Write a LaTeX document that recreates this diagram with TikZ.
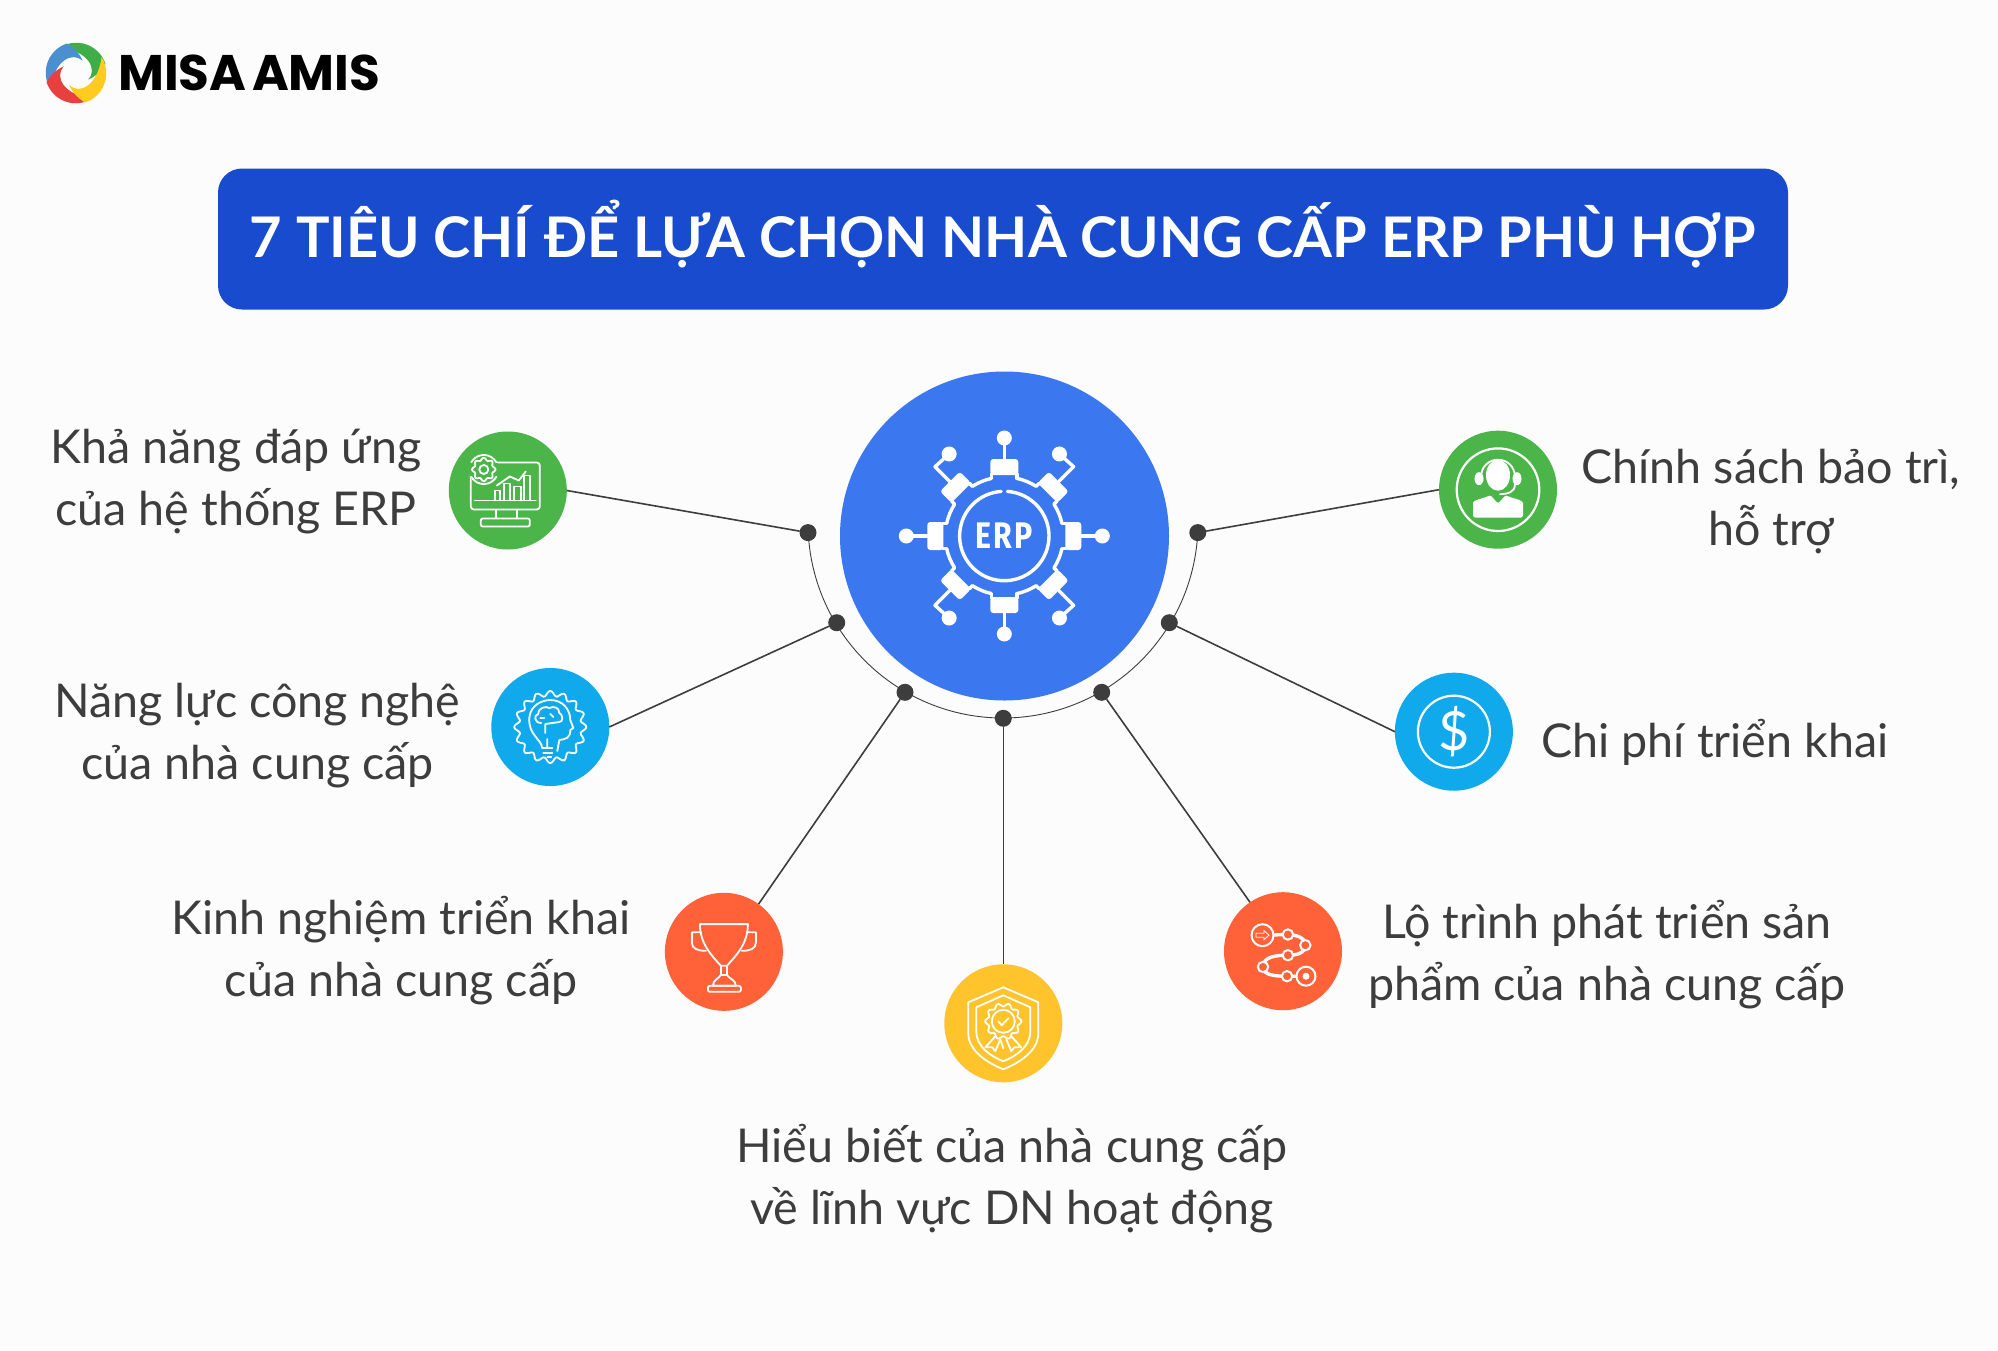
\documentclass[tikz,border=0pt]{standalone}
\usepackage{fontspec}
\setmainfont{Lato}
\newfontfamily\logofont{Poppins}
\newfontfamily\erpfont[LetterSpace=8]{Fira Sans}
\definecolor{bgc}{HTML}{FCFCFC}
\definecolor{titlec}{HTML}{184BCE}
\definecolor{mainc}{HTML}{3B78F0}
\definecolor{greenc}{HTML}{4BB54A}
\definecolor{bluec}{HTML}{0FA9EC}
\definecolor{redc}{HTML}{FF6138}
\definecolor{yellowc}{HTML}{FFC42B}
\definecolor{inkc}{HTML}{3D3D3D}
\definecolor{lgreen}{HTML}{3FAE49}
\definecolor{lblue}{HTML}{4A90D0}
\definecolor{lred}{HTML}{E8403F}
\definecolor{lyellow}{HTML}{FFCB1F}
\tikzset{
  icon/.style={circle,minimum size=118pt,inner sep=0pt,outer sep=0pt,fill=#1},
  dotn/.style={circle,minimum size=17pt,inner sep=0pt,outer sep=0pt,fill=inkc},
  conn/.style={inkc,line width=1.6pt},
  lab/.style={align=center,text=inkc,inner sep=0pt,font=\fontsize{46.6}{62}\selectfont},
  ic/.style={white,line width=1.8pt,line cap=round,line join=round},
  ict/.style={white,line width=3.4pt,line cap=round,line join=round},
}
\begin{document}
\begin{tikzpicture}[x=1pt,y=-1pt]
\path[use as bounding box,fill=bgc] (0,0) rectangle (1998,1350);
% logo
\begin{scope}[shift={(76,73)}]
 \begin{scope}[rotate=0]\fill[lgreen] (-16,-25.6) arc[start angle=238,end angle=342,radius=30.7] .. controls (24,0) and (18,4) .. (12.3,6.7) .. controls (22,-4) and (12,-22) .. (-16,-25.6) -- cycle;\end{scope}
 \begin{scope}[rotate=90]\fill[lblue] (-16,-25.6) arc[start angle=238,end angle=342,radius=30.7] .. controls (24,0) and (18,4) .. (12.3,6.7) .. controls (22,-4) and (12,-22) .. (-16,-25.6) -- cycle;\end{scope}
 \begin{scope}[rotate=180]\fill[lred] (-16,-25.6) arc[start angle=238,end angle=342,radius=30.7] .. controls (24,0) and (18,4) .. (12.3,6.7) .. controls (22,-4) and (12,-22) .. (-16,-25.6) -- cycle;\end{scope}
 \begin{scope}[rotate=270]\fill[lyellow] (-16,-25.6) arc[start angle=238,end angle=342,radius=30.7] .. controls (24,0) and (18,4) .. (12.3,6.7) .. controls (22,-4) and (12,-22) .. (-16,-25.6) -- cycle;\end{scope}
\end{scope}
\node[anchor=west,inner sep=0pt,text=black,font=\logofont\bfseries\fontsize{50}{50}\selectfont] (logo) at (118,73) {MISA\hspace{-5pt} AMIS};
% title
\node[fill=titlec,rounded corners=24pt,minimum width=1570pt,minimum height=141pt,inner sep=0pt] (title) at (1003,239) {};
\node[inner sep=0pt,text=white,font=\bfseries\fontsize{56}{56}\selectfont] (titletext) at (1003,234) {7 TIÊU CHÍ ĐỂ LỰA CHỌN NHÀ CUNG CẤP ERP PHÙ HỢP};
% arc
\coordinate (arcC) at (1003,523);
\draw[inkc,line width=0.9pt] (arcC) ++(177.2:195) arc[start angle=177.2,end angle=2.8,radius=195];
% main
\node[circle,fill=mainc,minimum size=329pt,inner sep=0pt] (main) at (1004.5,536) {};
% dots
\node[dotn] (d1) at (808,532.6) {};
\node[dotn] (d2) at (836.7,622.7) {};
\node[dotn] (d3) at (905,692.3) {};
\node[dotn] (d4) at (1003.3,718.3) {};
\node[dotn] (d5) at (1101.7,692.3) {};
\node[dotn] (d6) at (1169.3,622.7) {};
\node[dotn] (d7) at (1197.8,532.6) {};
% icon discs
\node[icon=greenc] (i1) at (507.8,490.5) {};
\node[icon=bluec] (i2) at (550.3,727) {};
\node[icon=redc] (i3) at (723.9,951.8) {};
\node[icon=yellowc] (i4) at (1003.3,1023.3) {};
\node[icon=redc] (i5) at (1283,951.2) {};
\node[icon=bluec] (i6) at (1453.9,731.7) {};
\node[icon=greenc] (i7) at (1498,489.7) {};
% connectors
\draw[conn] (d1) -- (i1.0);
\draw[conn] (d2) -- (i2.0);
\draw[conn] (d3) -- (i3.54);
\draw[conn] (d4) -- (i4.90);
\draw[conn] (d5) -- (i5.124);
\draw[conn] (d6) -- (i6.180);
\draw[conn] (d7) -- (i7.180);
% labels
\node[lab] (t1) at (236,482) {Khả năng đáp ứng\\của hệ thống ERP};
\node[lab] (t2) at (257.5,736) {Năng lực công nghệ\\của nhà cung cấp};
\node[lab] (t3) at (401,951) {Kinh nghiệm triển khai\\của nhà cung cấp};
\node[lab] (t4) at (1012,1179) {Hiểu biết của nhà cung cấp\\về lĩnh vực DN hoạt động};
\node[lab] (t5) at (1607,955) {Lộ trình phát triển sản\\phẩm của nhà cung cấp};
\node[lab] (t6) at (1715,742) {Chi phí triển khai};
\node[lab] (t7) at (1771,502) {Chính sách bảo trì,\\hỗ trợ};
% ERP icon
\begin{scope}[shift={(1004.3,536)}]
 \foreach \a in {0,45,...,315}{
  \begin{scope}[rotate=\a]
   \fill[white,rounded corners=3pt] (-14,-77) rectangle (14,-61);
   \draw[ict] (-12.6,-62) -- (-12.6,-57.5) (12.6,-62) -- (12.6,-57.5);
   \draw[ict] (0,0) ++(-77:59) arc[start angle=-77,end angle=-58,radius=59];
  \end{scope}}
 \foreach \a in {0,90,180,270}{
  \begin{scope}[rotate=\a]
   \draw[ict] (0,-77) -- (0,-97);
   \fill[white] (0,-98) circle[radius=7.5];
  \end{scope}}
 \foreach \a/\s in {45/1,225/1,135/-1,315/-1}{
  \begin{scope}[rotate=\a]
   \draw[ict] (0,-77) -- (0,-98) -- (\s*19,-97);
   \fill[white] (\s*19,-97) circle[radius=7.5];
  \end{scope}}
 \draw[ict] (0,0) ++(-86:44.7) arc[start angle=-86,end angle=266,radius=44.7];
 \node[white,inner sep=0pt,xscale=.82,font=\erpfont\bfseries\fontsize{37}{37}\selectfont] (erp) at (0,0) {ERP};
\end{scope}
% monitor icon
\begin{scope}[shift={(507.8,490.5)}]
 \draw[ic,rounded corners=3pt] (-37,-28) rectangle (32,19);
 \draw[ic] (-33,10) -- (28,10);
 \draw[ic] (-12,19) -- (-12,28) (9,19) -- (9,28);
 \draw[ic,rounded corners=2pt] (-27,28) rectangle (22,36);
 \draw[ic] (-13,10) -- (-13,0) -- (-8,0) -- (-8,10) (-4,10) -- (-4,-7) -- (2,-7) -- (2,10) (6,10) -- (6,-4) -- (13,-4) -- (13,10) (16,10) -- (16,-15) -- (22,-15) -- (22,10);
 \draw[ic] (-11,-5) -- (2,-14) -- (11,-10) -- (18,-19);
 \fill[greenc] (-24,-21) circle[radius=15];
 \draw[ic] plot[domain=0:360,samples=73,smooth] ({-24+(10.5+1.2*cos(8*\x))*cos(\x)},{-21+(10.5+1.2*cos(8*\x))*sin(\x)});
 \draw[ic] (-24,-21) circle[radius=4.5];
 \draw[ic] (-24,-21) ++(-150:14.5) arc[start angle=-150,end angle=-30,radius=14.5];
 \draw[ic] (-24,-21) ++(30:14.5) arc[start angle=30,end angle=150,radius=14.5];
\end{scope}
% brain icon
\begin{scope}[shift={(550.3,727)}]
 \draw[ic] plot[domain=0:360,samples=145,smooth] ({(33.5+2.6*cos(16*\x))*cos(\x)},{(33.5+2.6*cos(16*\x))*sin(\x)});
 \draw[ic] (-8,21) .. controls (-9,12) and (-22,8) .. (-21,-9) .. controls (-20,-22) and (-8,-27) .. (0,-27) .. controls (12,-27) and (20,-18) .. (20,-7) -- (23,1) -- (20,3) .. controls (20,11) and (16,12) .. (9,13) -- (7,24);
 \draw[ic] (-8,21) -- (2,21) (-7,26) -- (2,26) (-3,30) -- (1,30);
 \draw[ic] (-5,6) -- (-5,-3) -- (9,-5) .. controls (13,-5) and (13,-12) .. (9,-14);
 \draw[ic] (-9,-4) .. controls (-16,-4) and (-17,-12) .. (-12,-13) .. controls (-12,-20) and (-4,-21) .. (-1,-19) .. controls (3,-21) and (9,-20) .. (9,-14);
 \draw[ic] (-3,21) -- (-3,12) (-10,-9) -- (-6,-9) (0,-13) -- (3,-10);
\end{scope}
% trophy icon
\begin{scope}[shift={(723.9,951.8)}]
 \draw[ic] (-24,-27.7) -- (24,-27.7) .. controls (24,-8) and (12,4) .. (3,14) -- (-3,14) .. controls (-12,4) and (-24,-8) .. (-24,-27.7);
 \draw[ic] (-23,-19.5) -- (-32,-19.5) -- (-32,-9) .. controls (-32,-3) and (-26,-1) .. (-18,-1);
 \draw[ic] (23,-19.5) -- (32,-19.5) -- (32,-9) .. controls (32,-3) and (26,-1) .. (18,-1);
 \draw[ic] (-3,14) -- (-3,23) -- (3,23) -- (3,14);
 \draw[ic] (-3,23) .. controls (-5,27) and (-11,28) .. (-11,34) -- (12,34) .. controls (12,28) and (5,27) .. (3,23);
 \draw[ic,rounded corners=2pt] (-16,34) rectangle (17,40);
\end{scope}
% shield icon
\begin{scope}[shift={(1003.3,1023.3)}]
 \draw[ic] (0,-36) -- (-35,-21) -- (-35,10) .. controls (-35,28) and (-15,40) .. (0,46) .. controls (15,40) and (35,28) .. (35,10) -- (35,-21) -- cycle;
 \draw[ic] (0,-28) -- (-27,-16) -- (-27,8) .. controls (-27,24) and (-12,33) .. (0,38) .. controls (12,33) and (27,24) .. (27,8) -- (27,-16) -- cycle;
 \draw[ic] plot[domain=0:360,samples=121,smooth] ({(16.5+1.6*cos(10*\x))*cos(\x)},{-2+(16.5+1.6*cos(10*\x))*sin(\x)});
 \draw[ic] (0,-2) circle[radius=11.5];
 \draw[ic] (-5,-2) -- (-1.5,2) -- (5,-5);
 \draw[ic] (-8,13) -- (-18,24) -- (-11,24) -- (-8,28) -- (-3,16) -- (0,25) (8,13) -- (18,24) -- (11,24) -- (8,28) -- (3,16);
\end{scope}
% route icon
\begin{scope}[shift={(1283,951.2)}]
 \draw[ict] (-20.5,-16) -- (4.9,-16.7) .. controls (14,-16) and (22,-14) .. (22.3,-6) .. controls (22,2) and (14,4) .. (4.9,4) .. controls (-6,4) and (-20,5) .. (-20,15.7) .. controls (-20,24) and (-8,25) .. (4,25) -- (23,25);
 \foreach \c/\r in {(4.9,-16.7)/5.2,(22.3,-6)/5.2,(4.9,4)/5.2,(-20,15.7)/5.2,(4,25)/5.2,(23,25)/9.5,(-20.5,-16)/11}{\filldraw[draw=white,fill=redc,line width=2pt] \c circle[radius=\r];}
 \fill[white] (23,25) circle[radius=3.5];
 \draw[white,line width=.8pt] (-27,-18) -- (-19,-18) -- (-19,-20.5) -- (-14,-16) -- (-19,-11.5) -- (-19,-14) -- (-27,-14) -- cycle;
\end{scope}
% dollar icon
\begin{scope}[shift={(1453.9,731.7)}]
 \draw[white,line width=2.2pt] (0,0) circle[radius=36];
 \node[white,inner sep=0pt,font=\fontsize{54}{54}\selectfont] (dollar) at (0,0) {\$};
\end{scope}
% person icon
\begin{scope}[shift={(1498,489.7)}]
 \draw[white,line width=2.2pt] (0,0) circle[radius=41.3];
 \fill[white] (0,-14.5) ellipse[x radius=12,y radius=15.5];
 \draw[ic] (-17,-12) .. controls (-17,-36) and (17,-36) .. (17,-12);
 \fill[white] (-19,-11) ellipse[x radius=4.5,y radius=6.5];
 \fill[white] (19,-11) ellipse[x radius=4.5,y radius=6.5];
 \draw[ic] (17,-6) .. controls (17,3) and (10,4) .. (2,4.5);
 \fill[white,rounded corners=2.5pt] (-25,28) -- (-25,16) .. controls (-25,10) and (-12,8) .. (-8,5) -- (0,14) -- (8,5) .. controls (12,8) and (25,10) .. (25,16) -- (25,28) -- cycle;
\end{scope}
\end{tikzpicture}
\end{document}
